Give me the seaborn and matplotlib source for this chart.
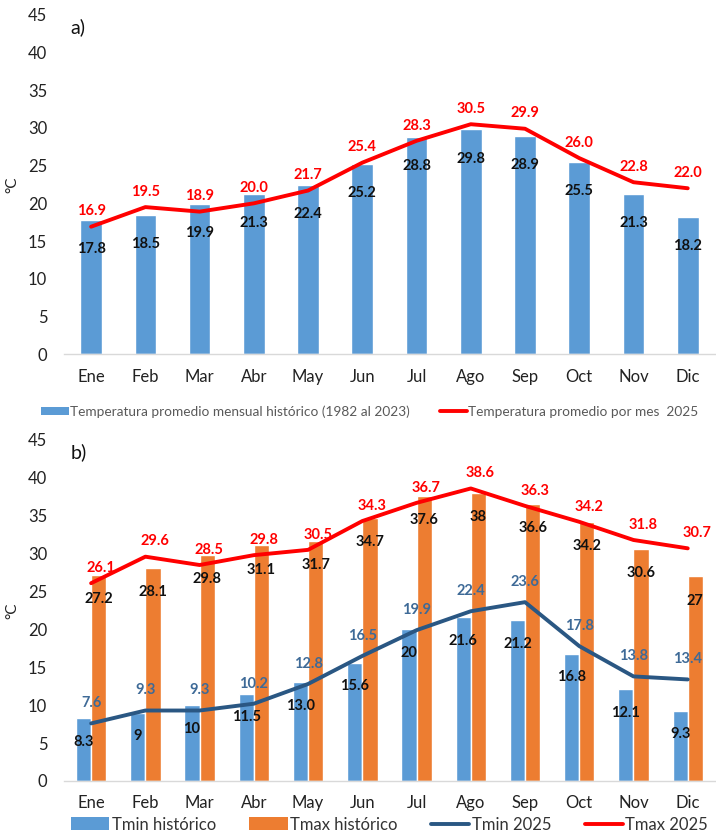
import numpy as np
import pandas as pd
import matplotlib
matplotlib.use("Agg")
import matplotlib.pyplot as plt
import seaborn as sns
from matplotlib.patches import Patch
from matplotlib.lines import Line2D

sns.set_theme(style="white")
plt.rcParams["font.family"] = ["Lato", "DejaVu Sans"]

months = ["Ene", "Feb", "Mar", "Abr", "May", "Jun", "Jul", "Ago", "Sep", "Oct", "Nov", "Dic"]

# Panel a: monthly mean temperature
mean_hist_lbl = ["17.8", "18.5", "19.9", "21.3", "22.4", "25.2", "28.8", "29.8", "28.9", "25.5", "21.3", "18.2"]
mean_2025_lbl = ["16.9", "19.5", "18.9", "20.0", "21.7", "25.4", "28.3", "30.5", "29.9", "26.0", "22.8", "22.0"]

# Panel b: minimum / maximum temperature
tmin_hist_lbl = ["8.3", "9", "10", "11.5", "13.0", "15.6", "20", "21.6", "21.2", "16.8", "12.1", "9.3"]
tmax_hist_lbl = ["27.2", "28.1", "29.8", "31.1", "31.7", "34.7", "37.6", "38", "36.6", "34.2", "30.6", "27"]
tmin_2025_lbl = ["7.6", "9.3", "9.3", "10.2", "12.8", "16.5", "19.9", "22.4", "23.6", "17.8", "13.8", "13.4"]
tmax_2025_lbl = ["26.1", "29.6", "28.5", "29.8", "30.5", "34.3", "36.7", "38.6", "36.3", "34.2", "31.8", "30.7"]

def nums(lbls):
    return [float(s) for s in lbls]

mean_hist = nums(mean_hist_lbl)
mean_2025 = nums(mean_2025_lbl)
tmin_hist = nums(tmin_hist_lbl)
tmax_hist = nums(tmax_hist_lbl)
tmin_2025 = nums(tmin_2025_lbl)
tmax_2025 = nums(tmax_2025_lbl)

BLUE = "#5B9BD5"
ORANGE = "#ED7D31"
RED = "#FF0000"
NAVY = "#2A5783"
NAVY_TXT = "#3E6A97"
LW = 2.8
pos = np.arange(len(months))

fig = plt.figure(figsize=(7.16, 8.32), dpi=100)
ax1 = fig.add_axes([0.0894, 0.5745, 0.909, 0.4075])
ax2 = fig.add_axes([0.0894, 0.0613, 0.909, 0.4099])

def style_axis(ax, label):
    ax.set_ylim(0, 45)
    ax.set_xlim(-0.5, 11.5)
    ax.set_yticks(range(0, 46, 5))
    ax.set_xticks(pos)
    ax.set_xticklabels(months)
    for s in ["left", "top", "right"]:
        ax.spines[s].set_visible(False)
    ax.spines["bottom"].set_color("#D9D9D9")
    ax.spines["bottom"].set_linewidth(1.0)
    ax.tick_params(axis="both", length=0, labelsize=12, colors="#222222")
    ax.tick_params(axis="x", pad=11)
    ax.tick_params(axis="y", pad=12)
    ax.set_xlabel("")
    ax.set_ylabel("°C", fontsize=11, color="#222222", labelpad=6)
    ax.text(0.01, 0.965, label, transform=ax.transAxes, fontsize=14,
            color="#111111", va="center", ha="left")

# ---- Panel a ----
df_a = pd.DataFrame({"mes": months, "valor": mean_hist})
sns.barplot(data=df_a, x="mes", y="valor", color=BLUE, saturation=1,
            width=0.4, ax=ax1)
sns.lineplot(x=pos, y=mean_2025, color=RED, linewidth=LW, ax=ax1)
for i in range(len(months)):
    ax1.annotate(mean_hist_lbl[i], (pos[i], mean_hist[i]), xytext=(0, -21),
                 textcoords="offset points", ha="center", va="center",
                 fontsize=10.5, fontweight="bold", color="#111111")
    ax1.annotate(mean_2025_lbl[i], (pos[i], mean_2025[i]), xytext=(0, 11),
                 textcoords="offset points", ha="center", va="center",
                 fontsize=10.5, fontweight="bold", color=RED)
style_axis(ax1, "a)")
handles_a = [Patch(facecolor=BLUE, edgecolor="none"),
             Line2D([0], [0], color=RED, linewidth=LW)]
ax1.legend(handles_a,
           ["Temperatura promedio mensual histórico (1982 al 2023)",
            "Temperatura promedio por mes  2025"],
           loc="upper center", bbox_to_anchor=(0.47, -0.115), ncol=2,
           frameon=False, fontsize=9.8, labelcolor="#595959",
           handlelength=2.0, handletextpad=0.1, columnspacing=2.2,
           handleheight=0.6)

# ---- Panel b ----
df_b = pd.DataFrame({
    "mes": months * 2,
    "valor": tmin_hist + tmax_hist,
    "serie": ["Tmin histórico"] * 12 + ["Tmax histórico"] * 12,
})
sns.barplot(data=df_b, x="mes", y="valor", hue="serie",
            palette=[BLUE, ORANGE], saturation=1, width=0.56, gap=0,
            ax=ax2, legend=False)
sns.lineplot(x=pos, y=tmin_2025, color=NAVY, linewidth=LW, ax=ax2)
sns.lineplot(x=pos, y=tmax_2025, color=RED, linewidth=LW, ax=ax2)
bw = 0.28
for i in range(len(months)):
    ax2.annotate(tmin_hist_lbl[i], (pos[i] - bw / 2, tmin_hist[i]), xytext=(0, -17),
                 textcoords="offset points", ha="center", va="center",
                 fontsize=10.5, fontweight="bold", color="#111111")
    ax2.annotate(tmax_hist_lbl[i], (pos[i] + bw / 2, tmax_hist[i]), xytext=(0, -17.5),
                 textcoords="offset points", ha="center", va="center",
                 fontsize=10.5, fontweight="bold", color="#111111")
    ax2.annotate(tmin_2025_lbl[i], (pos[i], tmin_2025[i]), xytext=(0, 14.5),
                 textcoords="offset points", ha="center", va="center",
                 fontsize=10.5, fontweight="bold", color=NAVY_TXT)
    ax2.annotate(tmax_2025_lbl[i], (pos[i], tmax_2025[i]), xytext=(7, 11),
                 textcoords="offset points", ha="center", va="center",
                 fontsize=10.5, fontweight="bold", color=RED)
style_axis(ax2, "b)")
ax2.tick_params(axis="x", pad=10)
handles_b = [Patch(facecolor=BLUE, edgecolor="none"),
             Patch(facecolor=ORANGE, edgecolor="none"),
             Line2D([0], [0], color=NAVY, linewidth=LW),
             Line2D([0], [0], color=RED, linewidth=LW)]
ax2.legend(handles_b, ["Tmin histórico", "Tmax histórico", "Tmin 2025", "Tmax 2025"],
           loc="upper center", bbox_to_anchor=(0.5, -0.085), ncol=4,
           frameon=False, fontsize=12, labelcolor="#333333",
           handlelength=2.3, handletextpad=0.15, columnspacing=2.0,
           handleheight=0.8, borderaxespad=0)

fig.savefig("out.png", dpi=100)
